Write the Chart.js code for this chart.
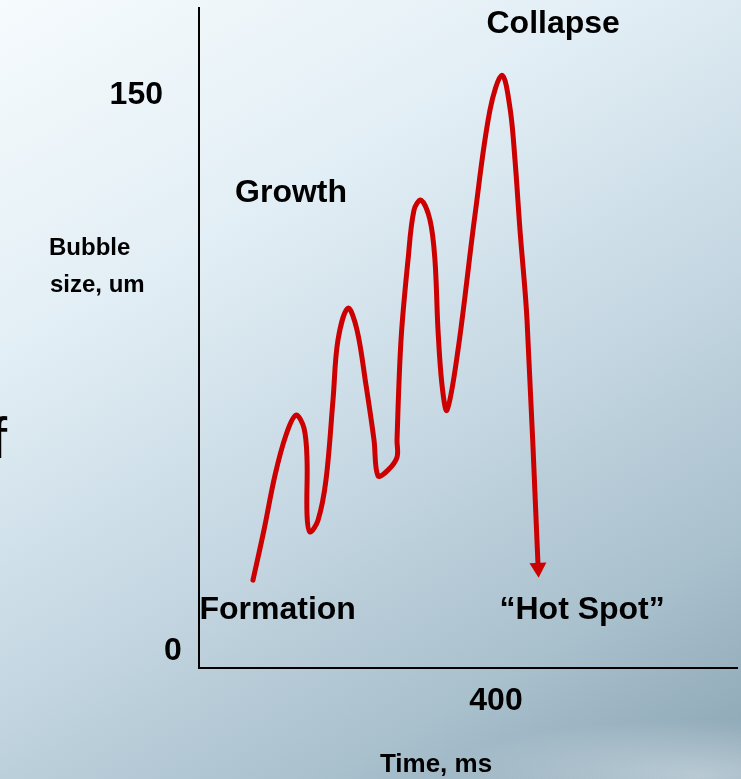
<!DOCTYPE html>
<html>
<head>
<meta charset="utf-8">
<script src="https://cdn.jsdelivr.net/npm/chart.js@4/dist/chart.umd.min.js"></script>
<style>
  html, body { margin: 0; padding: 0; }
  body {
    width: 741px; height: 779px; overflow: hidden;
    background:
      radial-gradient(ellipse 260px 55px at 700px 775px, rgba(235, 242, 246, 0.45), rgba(235, 242, 246, 0) 100%),
      linear-gradient(150deg, #f6fbfd 0%, #e2eef5 30%, #c6d8e3 56%, #a9c0cd 80%, #8ba5b4 100%);
  }
  #wrap { position: relative; width: 741px; height: 779px; }
</style>
</head>
<body>
<div id="wrap"><canvas id="myChart" width="741" height="779"></canvas></div>
<script>

// bubble size (um) over time (ms)
var timeMs = [72.7, 87.5, 102.4, 117.2, 130.6, 141.4, 145.5, 145.5, 149.5, 160.3,
              171.0, 180.5, 187.2, 200.7, 212.8, 224.9, 235.7, 241.1, 254.5, 266.7,
              266.7, 272.1, 281.5, 289.6, 299.0, 311.1, 317.8, 321.9, 327.3, 334.0,
              348.8, 371.7, 391.9, 408.1, 418.9, 425.6, 432.3, 441.8, 456.6];
var bubbleSize = [23.0, 36.1, 50.5, 61.0, 66.2, 62.8, 54.5, 40.1, 35.6, 38.7,
                  49.2, 70.2, 85.9, 94.2, 88.5, 74.1, 59.7, 50.3, 51.8, 55.2,
                  59.7, 85.9, 106.8, 119.9, 122.5, 117.3, 106.8, 88.5, 74.1, 67.5,
                  83.2, 118.6, 146.1, 155.2, 146.6, 133.0, 114.7, 91.1, 27.0];

var yTicks = [0, 150];
var xTicks = [400];

var stages = [
    { text: 'Formation', t: 106, s: 15.2 },
    { text: 'Growth', t: 124, s: 124.3 },
    { text: 'Collapse', t: 477, s: 168.6 },
    { text: '\u201cHot Spot\u201d', t: 516, s: 15.2 }
];

var points = [];
for (var i = 0; i < timeMs.length; i++) {
    points.push({ x: timeMs[i], y: bubbleSize[i] });
}

var fontFam = '"Liberation Sans", Arial, sans-serif';

var labelsPlugin = {
    id: 'labels',
    afterDraw: function (chart) {
        var ctx = chart.ctx;
        var xs = chart.scales.x;
        var ys = chart.scales.y;
        ctx.save();
        ctx.fillStyle = '#000';
        ctx.textBaseline = 'middle';

        // tick labels
        ctx.font = 'bold 32px ' + fontFam;
        ctx.textAlign = 'right';
        ctx.fillText(String(yTicks[1]), 163, ys.getPixelForValue(yTicks[1]));
        ctx.textAlign = 'center';
        ctx.fillText(String(yTicks[0]), 173, ys.getPixelForValue(yTicks[0]) - 17);
        ctx.fillText(String(xTicks[0]), xs.getPixelForValue(xTicks[0]), 701);

        // stage annotations
        stages.forEach(function (st) {
            ctx.fillText(st.text, xs.getPixelForValue(st.t), ys.getPixelForValue(st.s));
        });

        // axis titles
        ctx.font = 'bold 26px ' + fontFam;
        ctx.fillText('Time, ms', 436, 765);
        ctx.font = 'bold 24px ' + fontFam;
        ctx.textAlign = 'left';
        ctx.fillText('Bubble', 49, 248);
        ctx.fillText('size, um', 50, 285);

        // cut-off slide text on the left edge
        ctx.font = '58px ' + fontFam;
        ctx.textBaseline = 'alphabetic';
        ctx.fillText('f', -9, 458);

        // arrow head at the end of the curve
        var meta = chart.getDatasetMeta(0).data;
        var a = meta[meta.length - 2];
        var b = meta[meta.length - 1];
        var ang = Math.atan2(b.y - a.y, b.x - a.x);
        var len = 15, half = 8.5;
        var tipX = b.x + Math.cos(ang) * (len - 2);
        var tipY = b.y + Math.sin(ang) * (len - 2);
        var bx = b.x - Math.cos(ang) * 2;
        var by = b.y - Math.sin(ang) * 2;
        ctx.fillStyle = '#cc0000';
        ctx.beginPath();
        ctx.moveTo(tipX, tipY);
        ctx.lineTo(bx - Math.sin(ang) * half, by + Math.cos(ang) * half);
        ctx.lineTo(bx + Math.sin(ang) * half, by - Math.cos(ang) * half);
        ctx.closePath();
        ctx.fill();
        ctx.restore();
    }
};

var chartId = document.getElementById('myChart').getContext('2d');

var myChart = new Chart(chartId, {
    type: 'scatter',
    data: {
        datasets: [{
            label: 'Bubble size',
            data: points,
            showLine: true,
            borderColor: '#cc0000',
            borderWidth: 5,
            tension: 0.35,
            pointRadius: 0,
            borderCapStyle: 'round',
            borderJoinStyle: 'round'
        }]
    },
    options: {
        responsive: false,
        animation: false,
        layout: {
            padding: { left: 191, top: 8, right: 4, bottom: 103 }
        },
        plugins: {
            legend: { display: false },
            tooltip: { enabled: false }
        },
        scales: {
            x: {
                type: 'linear',
                min: 0,
                max: 724.6,
                grid: { display: false },
                border: { display: true, color: '#000', width: 2 },
                ticks: { display: false }
            },
            y: {
                type: 'linear',
                min: 0,
                max: 172.8,
                grid: { display: false },
                border: { display: true, color: '#000', width: 2 },
                ticks: { display: false }
            }
        }
    },
    plugins: [labelsPlugin]
});
</script>
</body>
</html>
